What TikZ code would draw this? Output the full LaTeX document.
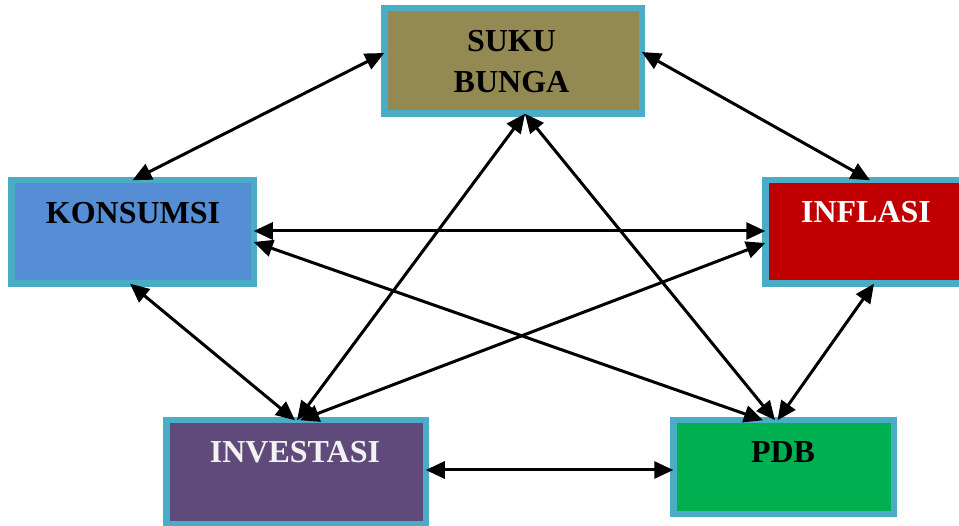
\documentclass[tikz,border=0pt]{standalone}
\usepackage{fontspec}
\setmainfont{Liberation Serif}
\usetikzlibrary{arrows.meta}
\definecolor{bord}{HTML}{4BACC6}
\definecolor{olive}{HTML}{938953}
\definecolor{kblue}{HTML}{558ED5}
\definecolor{ipurple}{HTML}{604A7B}
\definecolor{ired}{HTML}{C00000}
\definecolor{pgreen}{HTML}{00B050}
\definecolor{offwhite}{HTML}{F2F2F2}
\tikzset{
  box/.style={draw=bord, line width=6.5pt, rectangle, inner sep=0pt, outer sep=0pt},
  lbl/.style={anchor=base, inner sep=0pt, font=\fontsize{32}{41}\selectfont\bfseries},
  link/.style={line width=3pt, {Triangle[length=19pt,width=17pt]}-{Triangle[length=19pt,width=17pt]}}
}
\begin{document}
\begin{tikzpicture}[x=1pt,y=-1pt]
\useasboundingbox (0,0) rectangle (959,526);
% boxes (outer size minus 6.5)
\node[box, fill=olive, minimum width=257.5pt, minimum height=105.5pt] (suku) at (513,61) {};
\node[box, fill=kblue, minimum width=242.5pt, minimum height=103.5pt] (kons) at (132.5,232) {};
\node[box, fill=ipurple, minimum width=259.5pt, minimum height=103.5pt] (inv) at (296,472) {};
\node[box, fill=ired, minimum width=201.5pt, minimum height=103.5pt] (infl) at (866,232) {};
\node[box, fill=pgreen, minimum width=220.5pt, minimum height=93.5pt] (pdb) at (783.5,467) {};
% labels
\node[lbl] (t1) at (511.5,52) {SUKU};
\node[lbl] (t2) at (511.5,93) {BUNGA};
\node[lbl] (t3) at (133,224) {KONSUMSI};
\node[lbl, text=white] (t4) at (866,223) {INFLASI};
\node[lbl, text=offwhite] (t5) at (295,463) {INVESTASI};
\node[lbl] (t6) at (783,463) {PDB};
% connectors
\draw[link] (kons.north) -- ([yshift=8pt]suku.west);
\draw[link] ([yshift=9pt]suku.east) -- ([xshift=4pt]infl.north);
\draw[link] ([yshift=1pt]kons.east) -- ([yshift=1pt]infl.west);
\draw[link] ([yshift=-10pt]kons.east) -- ([xshift=-20.5pt]pdb.north);
\draw[link] ([xshift=-2.5pt]kons.south) -- ([xshift=-1pt]inv.north);
\draw[link] ([xshift=12pt]suku.south) -- ([xshift=1pt]inv.north);
\draw[link] ([xshift=12pt]suku.south) -- ([xshift=-8.5pt]pdb.north);
\draw[link] ([yshift=-11pt]infl.west) -- ([xshift=4pt]inv.north);
\draw[link] ([xshift=8pt]infl.south) -- ([xshift=-6pt]pdb.north);
\draw[link] ([yshift=2pt]inv.east) -- ([yshift=-3pt]pdb.west);
\end{tikzpicture}
\end{document}
